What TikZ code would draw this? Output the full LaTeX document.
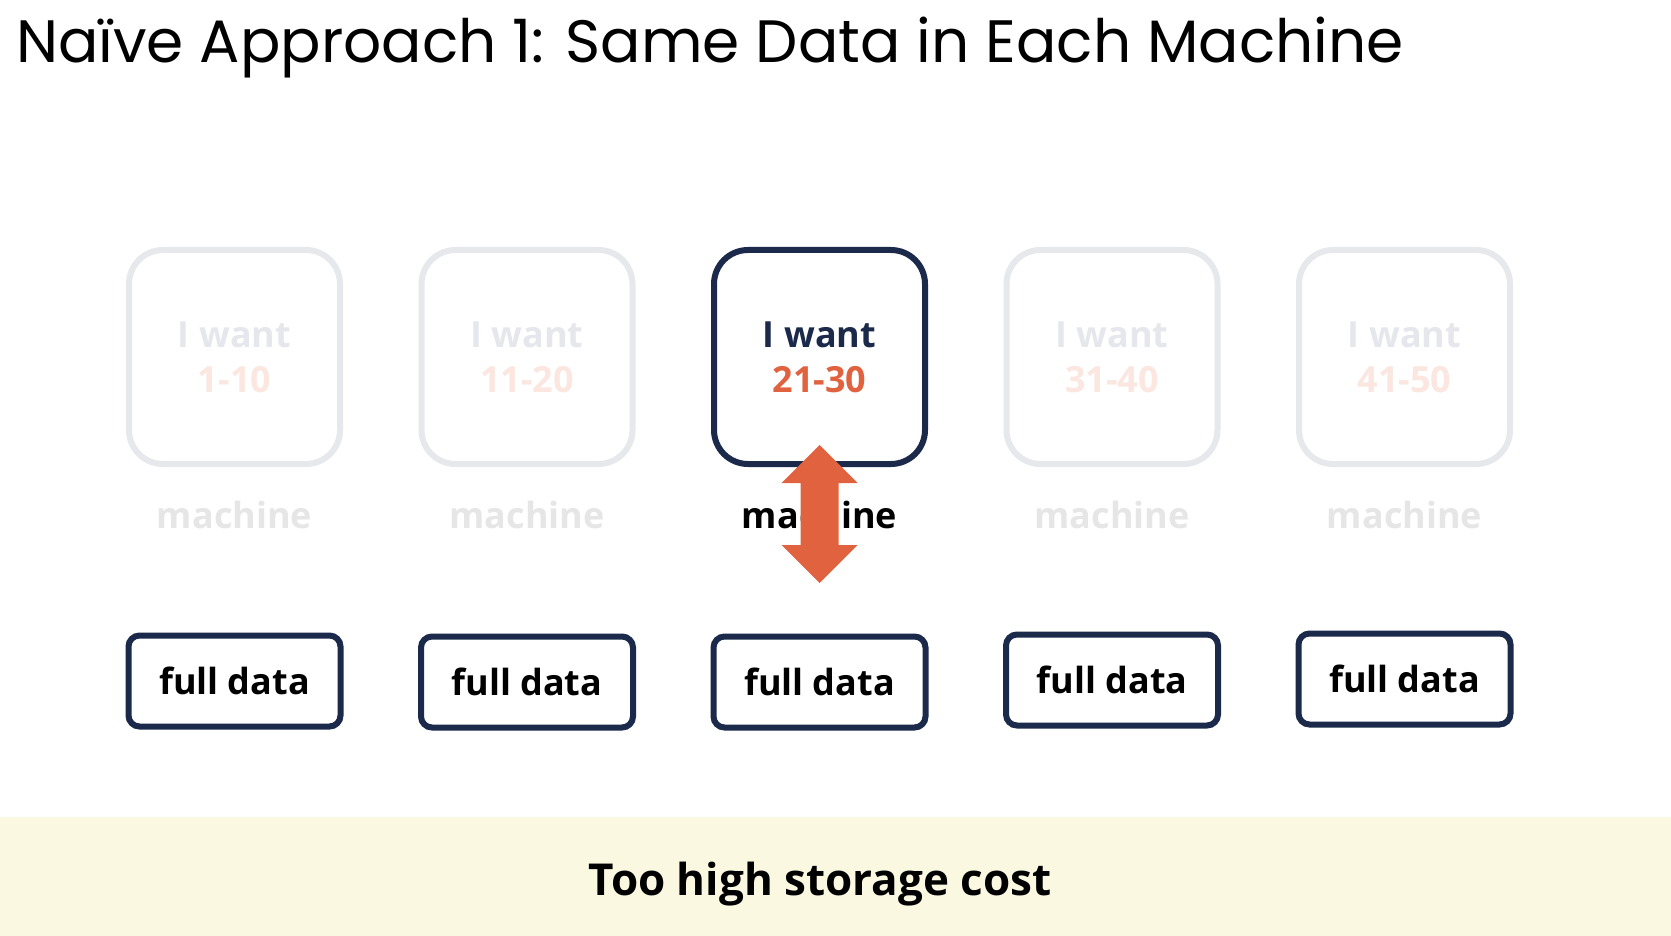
\documentclass[tikz,border=0pt]{standalone}
\usepackage{fontspec}
\setmainfont{Open Sans}
\newfontfamily\titlefont{Poppins}
\definecolor{navy}{HTML}{1B2A4A}
\definecolor{accent}{HTML}{E0623F}
\definecolor{fadeline}{HTML}{E7E8EC}
\definecolor{fadetext}{HTML}{E6E7EC}
\definecolor{fadenum}{HTML}{FBE6E0}
\definecolor{fademach}{HTML}{E6E6E6}
\definecolor{band}{HTML}{FAF8E1}
\begin{document}
\begin{tikzpicture}[x=1pt,y=-1pt,
  mbox/.style={draw=fadeline,line width=6pt,rounded corners=34pt,minimum width=211pt,minimum height=214pt,inner sep=0pt},
  mboxon/.style={mbox,draw=navy},
  dbox/.style={draw=navy,line width=6pt,rounded corners=11pt,minimum width=212pt,minimum height=91pt,inner sep=0pt,font=\fontsize{36}{40}\selectfont\bfseries},
  want/.style={anchor=base,font=\fontsize{36}{40}\selectfont\bfseries,text=fadetext},
  num/.style={anchor=base,font=\fontsize{36}{40}\selectfont\bfseries,text=fadenum},
  mach/.style={anchor=base,font=\fontsize{36}{40}\selectfont\bfseries,text=fademach}]
\useasboundingbox (0,0) rectangle (1671,936);
\fill[white] (0,0) rectangle (1671,936);
\fill[band] (0,817) rectangle (1671,936);
\node[anchor=base west,inner sep=0pt,font=\titlefont\fontsize{59.8}{62}\selectfont] (title) at (16,63) {Naïve Approach 1: Same Data in Each Machine};
% machines
\foreach \i/\x/\r/\dy in {1/234.5/1-10/681,2/527/11-20/682,4/1112/31-40/680,5/1404.5/41-50/679}{
  \node[mbox] (m\i) at (\x,357) {};
  \node[want] (w\i) at (\x,347) {I want};
  \node[num] (n\i) at (\x,392) {\r};
  \node[mach] (l\i) at (\x,528) {machine};
  \node[dbox] (d\i) at (\x,\dy) {full data};
}
\node[mboxon] (m3) at (819.5,357) {};
\node[want,text=navy] (w3) at (819.5,347) {I want};
\node[num,text=accent] (n3) at (819.5,392) {21-30};
\node[mach,text=black] (l3) at (819.5,528) {machine};
\node[dbox] (d3) at (819.5,682) {full data};
% double arrow
\fill[accent] (819.5,445) -- (857.5,483) -- (838.5,483) -- (838.5,545) -- (857.5,545) -- (819.5,583)
  -- (781.5,545) -- (800.5,545) -- (800.5,483) -- (781.5,483) -- cycle;
\node[anchor=base,font=\fontsize{44}{48}\selectfont\bfseries] (cost) at (820,895) {Too high storage cost};
\end{tikzpicture}
\end{document}
